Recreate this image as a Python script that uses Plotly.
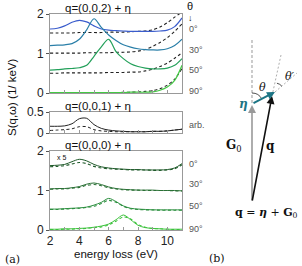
import math
import plotly.graph_objects as go

# ---------------- data ----------------
energy = [2, 2.5, 3, 3.5, 4, 4.5, 5, 5.5, 6, 6.5, 7, 7.5, 8, 8.5, 9, 9.5, 10, 10.5, 11]
angles = ["0°", "30°", "50°", "90°"]
offsets = [1.5, 1.0, 0.5, 0.0]

# q=(0,0,2)+eta  (values relative to each curve's offset)
top_0_solid = [0.12, 0.14, 0.20, 0.29, 0.34, 0.30, 0.20, 0.12, 0.09, 0.08, 0.07, 0.06, 0.06, 0.06, 0.06, 0.07, 0.09, 0.18, 0.40]
top_0_dash = [0.02, 0.02, 0.02, 0.02, 0.03, 0.03, 0.03, 0.03, 0.04, 0.04, 0.04, 0.05, 0.06, 0.07, 0.10, 0.17, 0.28, 0.42, 0.55]
top_30_solid = [0.20, 0.21, 0.22, 0.25, 0.36, 0.60, 0.88, 0.66, 0.47, 0.33, 0.22, 0.16, 0.12, 0.10, 0.09, 0.09, 0.12, 0.20, 0.36]
top_30_dash = [0.01, 0.01, 0.01, 0.01, 0.01, 0.02, 0.02, 0.02, 0.02, 0.03, 0.03, 0.04, 0.06, 0.10, 0.18, 0.28, 0.40, 0.56, 0.75]
top_50_solid = [0.08, 0.09, 0.11, 0.12, 0.14, 0.20, 0.43, 0.67, 0.86, 0.55, 0.37, 0.24, 0.17, 0.13, 0.11, 0.11, 0.13, 0.20, 0.37]
top_50_dash = [0.00, 0.00, 0.01, 0.01, 0.01, 0.01, 0.01, 0.01, 0.02, 0.02, 0.02, 0.03, 0.03, 0.06, 0.10, 0.17, 0.26, 0.38, 0.52]
top_90_solid = [0.01, 0.01, 0.01, 0.01, 0.01, 0.01, 0.01, 0.01, 0.01, 0.01, 0.01, 0.02, 0.02, 0.02, 0.03, 0.07, 0.15, 0.32, 0.70]
top_90_dash = [0.00, 0.00, 0.00, 0.00, 0.00, 0.00, 0.01, 0.01, 0.01, 0.01, 0.02, 0.02, 0.03, 0.04, 0.06, 0.11, 0.20, 0.35, 0.62]

# q=(0,0,1)+eta (arb.)
mid_solid = [0.16, 0.16, 0.17, 0.22, 0.34, 0.35, 0.20, 0.11, 0.07, 0.05, 0.04, 0.03, 0.03, 0.03, 0.04, 0.04, 0.05, 0.07, 0.09]
mid_dash = [0.06, 0.07, 0.08, 0.10, 0.15, 0.15, 0.08, 0.05, 0.04, 0.03, 0.03, 0.03, 0.03, 0.03, 0.04, 0.04, 0.05, 0.07, 0.09]

# q=(0,0,0)+eta (x 5)
bot_0_solid = [0.13, 0.14, 0.16, 0.23, 0.29, 0.25, 0.16, 0.10, 0.07, 0.05, 0.04, 0.03, 0.03, 0.02, 0.02, 0.02, 0.03, 0.07, 0.18]
bot_0_dash = [0.10, 0.11, 0.13, 0.17, 0.21, 0.18, 0.11, 0.07, 0.05, 0.04, 0.03, 0.02, 0.02, 0.02, 0.01, 0.01, 0.02, 0.05, 0.15]
bot_30_solid = [0.04, 0.05, 0.05, 0.07, 0.10, 0.16, 0.19, 0.15, 0.09, 0.05, 0.03, 0.02, 0.01, 0.01, 0.01, 0.00, 0.00, 0.00, -0.01]
bot_30_dash = [0.03, 0.04, 0.04, 0.06, 0.08, 0.13, 0.15, 0.12, 0.07, 0.04, 0.02, 0.01, 0.01, 0.00, 0.00, 0.00, 0.00, -0.01, -0.01]
bot_50_solid = [0.03, 0.03, 0.04, 0.05, 0.06, 0.08, 0.13, 0.20, 0.30, 0.22, 0.11, 0.05, 0.03, 0.02, 0.01, 0.01, 0.01, 0.01, 0.01]
bot_50_dash = [0.02, 0.02, 0.03, 0.04, 0.05, 0.07, 0.10, 0.17, 0.25, 0.20, 0.10, 0.04, 0.02, 0.01, 0.01, 0.00, 0.00, 0.00, 0.00]
bot_90_solid = [0.02, 0.02, 0.03, 0.03, 0.04, 0.05, 0.07, 0.10, 0.15, 0.26, 0.38, 0.26, 0.12, 0.06, 0.04, 0.03, 0.02, 0.02, 0.02]
bot_90_dash = [0.01, 0.01, 0.02, 0.02, 0.03, 0.04, 0.06, 0.08, 0.13, 0.22, 0.33, 0.28, 0.14, 0.07, 0.04, 0.03, 0.02, 0.01, 0.01]

x_tickvals = [2, 4, 6, 8, 10]
x_minor_vals = [3, 5, 7, 9, 11]

# ---------------- styling ----------------
W, H = 302, 266
SANS = "Liberation Sans, Arial, sans-serif"
SERIF = "DejaVu Serif, Liberation Serif, serif"
top_colors = ["#3a5ccc", "#2a7fa8", "#23a05a", "#45c845"]
bot_colors = ["#1f5a2a", "#2a7035", "#2b8f3e", "#3dc23d"]
AX = "#999999"


def pxx(x):
    return x / W


def pyy(y):
    return 1 - y / H


fig = go.Figure()


def add(xa, ya, vals, off, color, dash, width=1.2):
    fig.add_trace(go.Scatter(
        x=energy, y=[v + off for v in vals], mode="lines",
        line=dict(color=color, width=width, dash=dash, shape="spline", smoothing=0.9),
        xaxis=xa, yaxis=ya, showlegend=False, hoverinfo="skip"))


top_s = [top_0_solid, top_30_solid, top_50_solid, top_90_solid]
top_d = [top_0_dash, top_30_dash, top_50_dash, top_90_dash]
bot_s = [bot_0_solid, bot_30_solid, bot_50_solid, bot_90_solid]
bot_d = [bot_0_dash, bot_30_dash, bot_50_dash, bot_90_dash]
DASH = "3px,2.5px"
for i in range(4):
    add("x", "y", top_d[i], offsets[i], "#222222", DASH, 1.1)
    add("x", "y", top_s[i], offsets[i], top_colors[i], "solid")
add("x2", "y2", mid_dash, 0, "#222222", DASH, 1.0)
add("x2", "y2", mid_solid, 0, "#222222", "solid", 1.0)
for i in range(4):
    add("x3", "y3", bot_d[i], offsets[i], bot_colors[i], DASH, 1.1)
    add("x3", "y3", bot_s[i], offsets[i], bot_colors[i], "solid", 1.0)

xdom = [50 / W, 182 / W]
xcommon = dict(domain=xdom, range=[2, 11], showline=True, mirror=True, linecolor=AX, linewidth=1,
               showgrid=False, zeroline=False, ticks="inside", ticklen=3, tickcolor=AX,
               tickmode="array", tickvals=x_tickvals,
               minor=dict(tickmode="array", tickvals=x_minor_vals, ticks="inside", ticklen=3,
                          tickcolor=AX, showgrid=False),
               tickfont=dict(family=SANS, size=12, color="#222"))
ycommon = dict(showline=True, mirror=True, linecolor=AX, linewidth=1, showgrid=False, zeroline=False,
               ticks="outside", ticklen=3, tickcolor="#555",
               tickfont=dict(family=SANS, size=12, color="#222"))

fig.update_layout(
    width=W, height=H, autosize=False,
    margin=dict(l=0, r=0, t=0, b=0, pad=0, autoexpand=False),
    paper_bgcolor="white", plot_bgcolor="white",
    xaxis=dict(xcommon, anchor="y", showticklabels=False),
    yaxis=dict(ycommon, anchor="x", domain=[pyy(93), pyy(14)], range=[0, 2], tickvals=[0, 1, 2]),
    xaxis2=dict(xcommon, anchor="y2", showticklabels=False, matches="x"),
    yaxis2=dict(ycommon, anchor="x2", domain=[pyy(133), pyy(112)], range=[0, 0.5],
                tickvals=[0, 0.5], ticktext=["0", "0.5"]),
    xaxis3=dict(xcommon, anchor="y3", matches="x"),
    yaxis3=dict(ycommon, anchor="x3", domain=[pyy(230), pyy(151)], range=[0, 2], tickvals=[0, 1, 2]),
)

ann = []


def text(x, y, s, size=11, color="#111", family=SANS, xanchor="center", angle=0):
    ann.append(dict(x=pxx(x), y=pyy(y), xref="paper", yref="paper", text=s, showarrow=False,
                    font=dict(family=family, size=size, color=color), xanchor=xanchor,
                    yanchor="middle", textangle=angle))


text(63, 8, "q=(0,0,2) + η", 11.5, xanchor="left")
text(63, 106, "q=(0,0,1) + η", 11.5, xanchor="left")
text(63, 145, "q=(0,0,0) + η", 11.5, xanchor="left")
text(55, 157, "x 5", 7, xanchor="left")
text(116, 254, "energy loss (eV)", 11.5)
text(12, 97, "S(q,ω) (1/ keV)", 11.5, angle=-90)
text(12, 259, "(a)", 11, family=SERIF)
text(217, 258, "(b)", 11, family=SERIF)

# right-side angle labels
text(190, 6, "θ", 11, xanchor="center")
text(190, 18, "↓", 9, xanchor="center")
for lab, yv in zip(angles, [29, 50, 70, 91]):
    text(187, yv, lab, 9, color="#555", xanchor="left")
text(187, 125, "arb.", 9, color="#555", xanchor="left")
for lab, yv in zip(angles, [164, 184, 206, 229]):
    text(187, yv, lab, 9, color="#555", xanchor="left")

# ---------------- panel (b) diagram ----------------
TEAL = "#1d7585"
base = (252, 202)
g_tip = (252, 105)
eta_tip = (275, 92)
q_tip = (272, 96)


def arrow(tail, head, color, width, size=1.0):
    ann.append(dict(x=pxx(head[0]), y=pyy(head[1]), xref="paper", yref="paper",
                    ax=tail[0] - head[0], ay=tail[1] - head[1], axref="pixel", ayref="pixel",
                    text="", showarrow=True, arrowhead=2, arrowsize=size, arrowwidth=width,
                    arrowcolor=color, standoff=0, startstandoff=0))


shapes = []


def seg(p0, p1, color="#999", dash="dash", width=1):
    shapes.append(dict(type="line", xref="paper", yref="paper",
                       x0=pxx(p0[0]), y0=pyy(p0[1]), x1=pxx(p1[0]), y1=pyy(p1[1]),
                       line=dict(color=color, width=width, dash=dash)))


def arc(c, r, a0, a1, color="#222"):
    # quadratic-bezier approximation of a circular arc (angles in screen degrees)
    t0, t1 = math.radians(a0), math.radians(a1)
    p0 = (c[0] + r * math.cos(t0), c[1] - r * math.sin(t0))
    p1 = (c[0] + r * math.cos(t1), c[1] - r * math.sin(t1))
    tm = (t0 + t1) / 2
    rc = r / math.cos((t1 - t0) / 2)
    pc = (c[0] + rc * math.cos(tm), c[1] - rc * math.sin(tm))
    path = "M {} {} Q {} {} {} {}".format(pxx(p0[0]), pyy(p0[1]), pxx(pc[0]), pyy(pc[1]),
                                          pxx(p1[0]), pyy(p1[1]))
    shapes.append(dict(type="path", xref="paper", yref="paper", path=path,
                       line=dict(color=color, width=0.8)))


seg((252, 40), (252, 104), "#aaaaaa", "3px,2px", 1.2)
seg(q_tip, (281, 55), "#999", "2px,2px", 0.8)
seg(eta_tip, (297, 73), "#999", "2px,2px", 0.8)
arrow(base, g_tip, "#9a9a9a", 1.6)
arrow(base, q_tip, "#111111", 1.6)
arrow((252, 104), eta_tip, TEAL, 2.0, 0.8)
eta_ang = math.degrees(math.atan2(104 - 92, 275 - 252))
arc((252, 104), 11, eta_ang, 90)
qext_ang = math.degrees(math.atan2(96 - 55, 281 - 272))
eext_ang = math.degrees(math.atan2(92 - 73, 297 - 275))
arc(eta_tip, 9, eext_ang, qext_ang)

text(262, 87, "<i>θ</i>", 11, family=SERIF)
text(290, 76, "<i>θ′</i>", 11, family=SERIF)
text(243, 104, "<b><i>η</i></b>", 12, color=TEAL, family=SERIF)
text(234, 146, "<b>G</b><sub>0</sub>", 12, family=SERIF)
text(270, 146, "<b>q</b>", 12, family=SERIF)
text(266, 213, "<b>q</b> = <b><i>η</i></b> + <b>G</b><sub>0</sub>", 11, family=SERIF)

fig.update_layout(annotations=ann, shapes=shapes)
fig.write_html("out.html", config={"displayModeBar": False},
               post_script="document.body.style.margin='0';")
